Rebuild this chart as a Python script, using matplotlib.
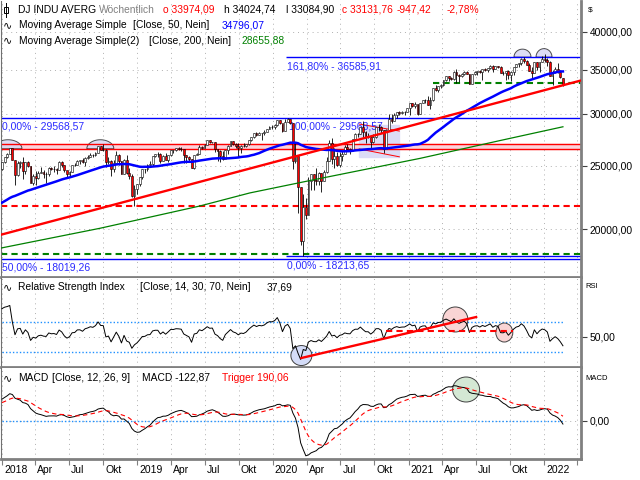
import numpy as np
import pandas as pd
import matplotlib
matplotlib.use("Agg")
import matplotlib.pyplot as plt
import matplotlib.dates as mdates
import matplotlib.transforms as mtransforms
from matplotlib.patches import Ellipse, Polygon, Rectangle
from matplotlib.lines import Line2D
from matplotlib.ticker import FixedLocator, FuncFormatter, NullLocator

plt.rcParams['font.family'] = ['Liberation Sans', 'DejaVu Sans']
plt.rcParams['font.size'] = 7.3

# weekly closes of 2017, only used to warm up the indicators
close_2017 = [19964, 19886, 19827, 20094, 20071, 20269, 20624, 20822, 21005, 20903,
              20915, 20597, 20663, 20656, 20453, 20548, 20941, 21007, 20897, 20805,
              21080, 21206, 21272, 21384, 21395, 21350, 21414, 21638, 21580, 21830,
              22093, 21858, 21675, 21814, 21988, 21798, 22268, 22350, 22405, 22774,
              22871, 23329, 23434, 23539, 23422, 23358, 23558, 24231, 24329, 24652,
              24754, 24719]

close_2018 = [25296, 25803, 26072, 26617, 25521, 24191, 25219, 25310, 24538, 25336,
              24947, 23533, 24103, 23933, 24360, 24463, 24311, 24263, 24831, 24715,
              24753, 24635, 25317, 25090, 24581, 24271, 24456, 25019, 25058, 25451,
              25463, 25313, 25669, 25790, 25965, 25917, 26155, 26744, 26458, 26447,
              25340, 25444, 24688, 25271, 25989, 25413, 24286, 25538, 24389, 24101,
              22445, 23062]
high_2018 = [25300, 25804, 26154, 26617, 26610, 25520, 25430, 25430, 25800, 25350,
             25450, 25010, 24250, 24540, 24520, 24860, 24640, 24490, 24900, 24910,
             24970, 24810, 25400, 25400, 25100, 24580, 24500, 25050, 25200, 25520,
             25530, 25690, 25730, 25920, 26170, 26000, 26200, 26770, 26770, 26950,
             26520, 25810, 25500, 25540, 26280, 26000, 25440, 25600, 25980, 24800,
             24240, 23380]
low_2018 = [24660, 25280, 25664, 26020, 25490, 23360, 24090, 24780, 23900, 24320,
            24850, 23510, 23340, 23340, 23840, 24330, 23910, 23530, 24120, 24630,
            24480, 24250, 24640, 24860, 24420, 23990, 24080, 24460, 24960, 25020,
            25150, 25220, 25000, 25590, 25760, 25740, 25880, 26100, 26370, 26320,
            24900, 25130, 24120, 24440, 25240, 25090, 24270, 24280, 24240, 23880,
            22400, 21710]

close_2019 = [23433, 23996, 24706, 24737, 25064, 25106, 25883, 26031, 26026, 25450,
              25849, 25502, 25929, 26425, 26412, 26559, 26543, 26505, 25942, 25764,
              25586, 24815, 25984, 26090, 26719, 26600, 26922, 27332, 27154, 27192,
              26485, 26287, 25886, 25629, 26403, 26797, 27220, 26935, 26820, 26573,
              26817, 26770, 26958, 27347, 27681, 28005, 27876, 28051, 28015, 28135,
              28455, 28645]
high_2019 = [23480, 24050, 24750, 24740, 25160, 25440, 25890, 26050, 26240, 26150,
             25950, 26110, 25950, 26430, 26450, 26600, 26700, 26700, 26460, 25940,
             25900, 25610, 25990, 26180, 26910, 26760, 26970, 27340, 27400, 27200,
             27200, 26490, 26380, 26280, 26410, 26860, 27300, 27220, 27080, 27050,
             26850, 27040, 26990, 27350, 27690, 28030, 28090, 28170, 28070, 28290,
             28460, 28700]
low_2019 = [22640, 23290, 23840, 24340, 24510, 24880, 25000, 25800, 25770, 25210,
            25390, 25490, 25360, 25900, 26160, 26310, 26380, 26290, 25220, 25220,
            25320, 24800, 24680, 25920, 26030, 26500, 26590, 26880, 27110, 27060,
            26220, 25410, 25340, 25540, 25590, 26040, 26780, 26920, 26590, 25740,
            26180, 26720, 26700, 26900, 27260, 27560, 27700, 27860, 27320, 27830,
            28120, 28420]

close_2020 = [28634, 28824, 29348, 28990, 28256, 29103, 29398, 28992, 25409, 25865,
              23186, 19174, 21637, 21053, 23719, 24242, 23775, 23724, 24331, 23685,
              24465, 25383, 27111, 25606, 25871, 25016, 25827, 26075, 26672, 26470,
              26428, 27433, 27931, 27930, 28654, 28133, 27666, 27657, 27174, 27683,
              28587, 28606, 28336, 26502, 28323, 29480, 29263, 29910, 30218, 30046,
              30179, 30200, 30606]
high_2020 = [28870, 28960, 29370, 29370, 28960, 29410, 29570, 29410, 28990, 27100,
             25900, 23190, 22600, 22300, 24000, 24280, 24240, 24760, 24470, 24360,
             24620, 25760, 27340, 27580, 26610, 26200, 26200, 26350, 26880, 27000,
             26600, 27500, 28000, 28000, 28660, 29200, 28200, 28080, 27700, 27900,
             28600, 28960, 28700, 28350, 28400, 29930, 29960, 30120, 30230, 30320,
             30300, 30300, 30640]
low_2020 = [28420, 28420, 28760, 28940, 28170, 28200, 29100, 28950, 24680, 25230,
            21150, 18920, 18210, 20740, 21050, 22940, 22950, 23360, 23360, 22790,
            23690, 24400, 25380, 25130, 24840, 24950, 24880, 25390, 26000, 26420,
            26020, 26300, 27400, 27600, 27900, 27660, 27080, 27550, 26540, 27100,
            27580, 28270, 28000, 26140, 26500, 28300, 29060, 29200, 29600, 29850,
            29980, 29880, 30160]

close_2021 = [31098, 30814, 30997, 29983, 31148, 31458, 31494, 30932, 31496, 32779,
              32628, 33073, 33153, 33801, 34200, 34043, 33875, 34778, 34382, 34208,
              34529, 34756, 34480, 33290, 34433, 34786, 34870, 34687, 35062, 34935,
              35209, 35515, 35120, 35456, 35369, 34607, 34584, 34798, 34326, 34746,
              35295, 35677, 35820, 36328, 36100, 35602, 34899, 34580, 35971, 35365,
              35951, 36338]
high_2021 = [31190, 31200, 31270, 31030, 31160, 31460, 31640, 31960, 31790, 32790,
             33230, 33080, 33260, 33820, 34260, 34260, 34140, 34810, 35090, 34500,
             34660, 34850, 34850, 34500, 34500, 34790, 34900, 35000, 35090, 35170,
             35220, 35530, 35630, 35510, 35520, 35440, 34840, 34900, 34950, 34800,
             35320, 35760, 35900, 36430, 36570, 36180, 35860, 35280, 35980, 36000,
             35970, 36680]
low_2021 = [29880, 30730, 30640, 29850, 29990, 31100, 31150, 30930, 30550, 31380,
            32530, 32330, 32800, 33070, 33660, 33650, 33770, 33800, 33470, 33550,
            34120, 34420, 34440, 33270, 33260, 34330, 34350, 34600, 33740, 34800,
            34780, 35070, 34690, 35090, 35260, 34590, 34420, 33740, 33910, 33690,
            34370, 35290, 35400, 35610, 35840, 35560, 34880, 33950, 34630, 34930,
            34670, 35950]

close_2022 = [36232, 35912, 34265, 34725, 35090, 34738, 34079, 33132]
high_2022 = [36950, 36420, 36130, 34980, 35390, 35820, 35030, 34025]
low_2022 = [35950, 35440, 34260, 33150, 34550, 34600, 33970, 33085]
last_open = 33974.09

# 200-week average
ma200_dates = ['2017-12-29', '2018-09-22', '2019-06-18', '2019-10-31', '2020-05-07',
               '2021-02-01', '2021-09-04', '2022-02-21']
ma200_vals = [18725, 20070, 21700, 22720, 23900, 25650, 27300, 28656]

# drawings made on the chart
fib_low, fib_top, fib_mid = 18019.26, 29568.57, 18213.65
fib_ext = 36585.91
fib2_start = '2020-02-05'
band_vals = [26530, 27000]
red_dash_val = 21712
green_dash_val = 18350
support_val = 33440
support_start = '2021-03-08'
trend_dates = ['2017-12-29', '2022-04-08']
trend_vals = [19620, 33680]
tri_box = ['2020-08-21', '2020-12-07', 25800, 28830]
tri_upper = (['2020-08-21', '2020-12-07'], [28930, 28230])
tri_lower = (['2020-08-21', '2020-12-07'], [26510, 25790])
rsi_trend = (['2020-03-18', '2021-07-02'], [21.3, 76.3])
rsi_flat = (['2020-11-01', '2021-10-09'], [57.5, 57.5])

# ---- indicators
closes = close_2017 + close_2018 + close_2019 + close_2020 + close_2021 + close_2022
weeks = pd.date_range('2017-01-02', periods=len(closes), freq='W-MON')
s = pd.Series(closes, index=weeks, dtype=float)
ma50 = s.rolling(50).mean()
delta = s.diff()
gain = delta.clip(lower=0).ewm(alpha=1/14, adjust=False).mean()
loss = (-delta.clip(upper=0)).ewm(alpha=1/14, adjust=False).mean()
rsi = 100 - 100 / (1 + gain / loss)
macd = s.ewm(span=12, adjust=False).mean() - s.ewm(span=26, adjust=False).mean()
trigger = macd.ewm(span=9, adjust=False).mean()

show = weeks >= '2018-01-01'
d = mdates.date2num(weeks[show])
c = s[show].values
o = s.shift(1)[show].values.copy()
o[-1] = last_open
h = np.array(high_2018 + high_2019 + high_2020 + high_2021 + high_2022, dtype=float)
l = np.array(low_2018 + low_2019 + low_2020 + low_2021 + low_2022, dtype=float)

def dn(t):
    return mdates.date2num(pd.Timestamp(t))

x_left, x_right = dn('2017-12-29 07:00'), dn('2022-04-10 17:00')

fig = plt.figure(figsize=(6.4, 4.8), dpi=100)

def box(top, bottom):
    return [1/640, 1 - bottom/480, 580/640, (bottom - top)/480]

ax = fig.add_axes(box(1, 277))
ax_rsi = fig.add_axes(box(278, 367))
ax_macd = fig.add_axes(box(368, 459))

grid_kw = dict(ls=(0, (1, 4)), color='#b0b0b0', lw=0.7)
for a in (ax, ax_rsi, ax_macd):
    a.set_xlim(x_left, x_right)
    a.xaxis.set_major_locator(mdates.MonthLocator(bymonth=[1, 4, 7, 10]))
    a.grid(True, **grid_kw)
    a.set_axisbelow(True)
    a.spines['top'].set_visible(False)
    a.spines['left'].set_color('#707070')
    a.spines['left'].set_linewidth(0.8)
    a.spines['right'].set_color('#808080')
    a.spines['right'].set_linewidth(2)
    a.spines['bottom'].set_color('#808080')
    a.spines['bottom'].set_linewidth(2)
    a.yaxis.tick_right()
    a.tick_params(axis='y', direction='out', length=4, width=0.8, color='#404040',
                  pad=2, labelsize=7.4)
    a.tick_params(axis='x', length=0, labelbottom=False)

comma = FuncFormatter(lambda v, p: f"{v:.2f}".replace('.', ','))

# ---- main panel
ax.set_yscale('log')
ax.yaxis.set_major_locator(FixedLocator([20000, 25000, 30000, 35000, 40000]))
ax.yaxis.set_minor_locator(NullLocator())
ax.yaxis.set_major_formatter(comma)

ax.axhspan(band_vals[0], band_vals[1], color='#fbd3db', zorder=1)
ax.hlines(band_vals, x_left, x_right, colors='#ff0000', lw=1.0, zorder=2)
ax.add_patch(Rectangle((dn(tri_box[0]), tri_box[2]), dn(tri_box[1]) - dn(tri_box[0]),
                       tri_box[3] - tri_box[2], color='#dcdcf6', zorder=1))
ax.plot([dn(t) for t in tri_upper[0]], tri_upper[1], color='#ff0000', lw=0.7, zorder=2)
ax.plot([dn(t) for t in tri_lower[0]], tri_lower[1], color='#ff0000', lw=0.7, zorder=2)

ax.hlines([fib_top, fib_low], x_left, x_right, colors='#0000ff', lw=1.0, zorder=2)
ax.hlines([fib_ext, fib_mid], dn(fib2_start), x_right, colors='#0000ff', lw=1.0, zorder=2)
ax.hlines(red_dash_val, x_left, x_right, colors='#ff0000', lw=1.5,
          linestyles=[(0, (3, 2))], zorder=2)
ax.hlines(green_dash_val, x_left, x_right, colors='#008000', lw=1.5,
          linestyles=[(0, (3, 2))], zorder=2)
ax.hlines(support_val, dn(support_start), x_right, colors='#008000', lw=1.5,
          linestyles=[(0, (3, 2))], zorder=2)


def dome(axis, day, val, half_w, height, **kw):
    t = np.linspace(0, np.pi, 50)
    pts = np.column_stack([half_w * np.cos(t), height * np.sin(t)]) / 100.0
    tr = fig.dpi_scale_trans + mtransforms.ScaledTranslation(dn(day), val, axis.transData)
    axis.add_artist(Polygon(pts, closed=True, transform=tr, **kw))


def ring(axis, day, val, w, hgt, **kw):
    tr = fig.dpi_scale_trans + mtransforms.ScaledTranslation(dn(day), val, axis.transData)
    axis.add_artist(Ellipse((0, 0), w / 100.0, hgt / 100.0, transform=tr, **kw))


dome_kw = dict(facecolor='#d8d8f4', edgecolor='#303030', lw=0.7, zorder=1.5, alpha=0.85)
dome(ax, '2018-01-17', 26530, 14, 9, **dome_kw)
dome(ax, '2018-09-23', 26530, 13.5, 9, **dome_kw)
dome(ax, '2021-11-04', fib_ext, 8.5, 8, **dome_kw)
dome(ax, '2022-01-01', fib_ext, 8, 8.5, **dome_kw)

ax.plot(mdates.date2num(pd.to_datetime(ma200_dates)), ma200_vals, color='#008000',
        lw=0.9, zorder=4)

up = c >= o
ax.vlines(d, l, h, color='black', lw=0.6, zorder=3)
ax.bar(d, np.abs(c - o), bottom=np.minimum(o, c), width=5.0,
       color=np.where(up, 'white', '#ff0000'), edgecolor='black', linewidth=0.4, zorder=3.5)

ax.plot(d, ma50[show].values, color='#0000ff', lw=1.8, zorder=5)
ax.plot([dn(t) for t in trend_dates], trend_vals, color='#ff0000', lw=1.7, zorder=6)

lab_kw = dict(textcoords='offset pixels', ha='left', va='center', color='#2a2aff',
              fontsize=7.5, zorder=2.5, annotation_clip=False)
ax.annotate('0,00% - 29568,57', xy=(x_left, fib_top), xytext=(1, -9), **lab_kw)
ax.annotate('50,00% - 18019,26', xy=(x_left, fib_low), xytext=(1, -8), **lab_kw)
ax.annotate('161,80% - 36585,91', xy=(dn(fib2_start), fib_ext), xytext=(1, -9), **lab_kw)
ax.annotate('100,00% - 29568,57', xy=(dn(fib2_start), fib_top), xytext=(3, -9), **lab_kw)
ax.annotate('0,00% - 18213,65', xy=(dn(fib2_start), fib_mid), xytext=(1, -10), **lab_kw)

ax.set_ylim(16917, 44550)

# ---- RSI panel
ax_rsi.set_ylim(9.2, 128.7)
ax_rsi.yaxis.set_major_locator(FixedLocator([50]))
ax_rsi.yaxis.set_major_formatter(comma)
ax_rsi.hlines([30, 70], d[0], d[-1], colors='#1e90ff', lw=1.0,
              linestyles=[(0, (1, 1.5))], zorder=1)
ring(ax_rsi, '2020-03-18', 24.6, 21, 20, facecolor='#d4dcf8', edgecolor='#404040',
     lw=0.7, zorder=1.5)
ring(ax_rsi, '2021-05-07', 73, 25, 25, facecolor='#f9d4d4', edgecolor='#404040',
     lw=0.7, zorder=1.5)
ring(ax_rsi, '2021-09-16', 55.5, 17, 19, facecolor='#f9d4d4', edgecolor='#404040',
     lw=0.7, zorder=1.5)
ax_rsi.plot(d, rsi[show].values, color='black', lw=0.7, zorder=3)
ax_rsi.plot([dn(t) for t in rsi_trend[0]], rsi_trend[1], color='#ff0000', lw=1.7, zorder=4)
ax_rsi.plot([dn(t) for t in rsi_flat[0]], rsi_flat[1], color='#ff0000', lw=1.5,
            ls=(0, (3, 2)), zorder=4)

# ---- MACD panel
macd_show = macd[show]
scale = 35.3 / macd_show.loc['2021-01-01':'2021-12-31'].max()
ax_macd.set_ylim(-38 / scale, 53 / scale)
ax_macd.yaxis.set_major_locator(FixedLocator([0]))
ax_macd.yaxis.set_major_formatter(comma)
ax_macd.hlines(0, d[0], d[-1], colors='#1e90ff', lw=1.0, linestyles=[(0, (1, 1.5))], zorder=1)
ring(ax_macd, '2021-06-05', 31.5 / scale, 27, 25, facecolor='#d4e8d4', edgecolor='#404040',
     lw=0.7, zorder=1.5)
ax_macd.plot(d, macd_show.values, color='black', lw=0.7, zorder=3)
ax_macd.plot(d, trigger[show].values, color='#ff0000', lw=0.8, ls=(0, (4, 3)), zorder=3)
ax_macd.tick_params(axis='x', direction='out', length=4, width=0.8, color='#808080')

month_names = {1: None, 4: 'Apr', 7: 'Jul', 10: 'Okt'}
for t in pd.date_range('2018-01-01', '2022-01-01', freq='QS'):
    txt = str(t.year) if t.month == 1 else month_names[t.month]
    ax_macd.annotate(txt, xy=(dn(t), 0), xycoords=('data', 'axes fraction'),
                     xytext=(2, -11), textcoords='offset pixels', ha='left',
                     va='center', fontsize=7.5, annotation_clip=False)

# ---- header texts
def ftext(x, y, txt, color='black', size=7.35, **kw):
    fig.text(x / 640, 1 - y / 480, txt, color=color, fontsize=size, ha='left',
             va='center', **kw)

wave = dict(family=['DejaVu Sans'])
fig.add_artist(Line2D([5.5 / 640, 5.5 / 640], [1 - 3 / 480, 1 - 17 / 480], color='black', lw=0.7))
fig.add_artist(Rectangle((3.5 / 640, 1 - 13 / 480), 4 / 640, 6 / 480, facecolor='white',
                         edgecolor='black', lw=0.7))
ftext(18, 10, 'DJ INDU AVERG')
ftext(99, 10, 'Wöchentlich', color='#808080')
ftext(163, 10, 'o 33974,09', color='#ff0000')
ftext(224, 10, 'h 34024,74')
ftext(286, 10, 'l 33084,90')
ftext(342, 10, 'c 33131,76', color='#ff0000')
ftext(397, 10, '-947,42', color='#ff0000')
ftext(447, 10, '-2,78%', color='#ff0000')

ftext(3, 25.5, '∿', size=8, **wave)
ftext(19, 25.5, 'Moving Average Simple')
ftext(133, 25.5, '[Close, 50, Nein]')
ftext(222, 25.5, '34796,07', color='#0000ff')
ftext(3, 40.5, '∿', size=8, **wave)
ftext(19, 40.5, 'Moving Average Simple(2)')
ftext(149, 40.5, '[Close, 200, Nein]')
ftext(242, 40.5, '28655,88', color='#008000')

ftext(3, 287, '∿', size=8, **wave)
ftext(18, 287, 'Relative Strength Index')
ftext(139.5, 287, '[Close, 14, 30, 70, Nein]')
ftext(267, 287, '37,69')

ftext(3, 377.7, '∿', size=8, **wave)
ftext(18, 377.7, 'MACD')
ftext(52.5, 377.7, '[Close, 12, 26, 9]')
ftext(141.5, 377.7, 'MACD -122,87')
ftext(221.5, 377.7, 'Trigger 190,06', color='#ff0000')

ftext(588, 10, '$', size=6)
ftext(585, 287, 'RSI', size=5.5)
ftext(585, 378, 'MACD', size=5.5)

fig.savefig('out.png', dpi=100)
